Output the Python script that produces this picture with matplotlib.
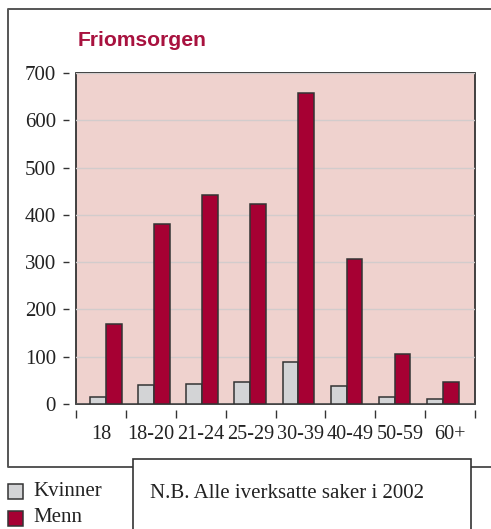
import matplotlib
matplotlib.use("Agg")
import matplotlib.pyplot as plt
from matplotlib.lines import Line2D
from matplotlib.patches import Rectangle
import numpy as np

# data
age_groups = ["18", "18-20", "21-24", "25-29", "30-39", "40-49", "50-59", "60+"]
kvinner = [14, 40, 42, 47, 88, 38, 14, 10]
menn = [170, 380, 443, 423, 657, 307, 106, 46]

TITLE = "Friomsorgen"
NOTE = "N.B. Alle iverksatte saker i 2002"

C_MENN = "#A60033"
C_KVINNER = "#D3D4D6"
C_BG = "#EFD2CE"
C_TITLE = "#A8123F"
C_EDGE = "#333333"
FS = 15

W, H = 491, 529
fig = plt.figure(figsize=(W / 100, H / 100), dpi=100)

# axes box in pixels: left 76, right 475, top 73, bottom 404
ax = fig.add_axes([76 / W, (H - 404) / H, 399 / W, 331 / H])

x = np.arange(len(age_groups))
bw = 0.33
ax.bar(x - bw / 2, kvinner, width=bw, color=C_KVINNER, edgecolor=C_EDGE,
       linewidth=1.1, zorder=3)
ax.bar(x + bw / 2, menn, width=bw, color=C_MENN, edgecolor=C_EDGE,
       linewidth=1.1, zorder=3)

xlim = (-0.624, 7.671)
ax.set_xlim(*xlim)
ax.set_ylim(0, 700)

ax.set_facecolor(C_BG)
ax.patch.set_edgecolor(C_EDGE)
ax.patch.set_linewidth(1.3)
for s in ax.spines.values():
    s.set_visible(False)
ax.spines["left"].set_position(("outward", 5))
ax.spines["bottom"].set_position(("outward", 4))

ax.yaxis.grid(True, color="#D2CCCC", linewidth=1.0, zorder=1)
ax.set_axisbelow(True)

serif = ["Liberation Serif", "DejaVu Serif"]
ax.set_yticks(np.arange(0, 701, 100))
ax.tick_params(axis="y", direction="out", length=4.5, width=1.0,
               color=C_EDGE, pad=5, labelsize=FS, labelcolor="#222222")

bounds = np.linspace(xlim[0], xlim[1], len(age_groups) + 1)
centers = (bounds[:-1] + bounds[1:]) / 2
ax.set_xticks(centers)
ax.set_xticklabels(age_groups)
ax.set_xticks(bounds, minor=True)
ax.tick_params(axis="x", which="major", length=0, pad=11, labelsize=14.6,
               labelcolor="#222222")
ax.tick_params(axis="x", which="minor", direction="out", length=6, width=1.0,
               color=C_EDGE)
for lab in ax.get_xticklabels() + ax.get_yticklabels():
    lab.set_fontfamily(serif)

# title
fig.text(78 / W, 1 - 41 / H, TITLE, color=C_TITLE, fontsize=15.2,
         fontweight="bold", family=["Liberation Sans", "DejaVu Sans"],
         ha="left", va="center")

# outer frame (runs off the right edge)
fy = lambda py: 1 - py / H
fx = lambda px: px / W
frame = Line2D([fx(500), fx(8), fx(8), fx(500)],
               [fy(9), fy(9), fy(466.5), fy(466.5)],
               transform=fig.transFigure, color="#555555", linewidth=1.4)
fig.add_artist(frame)

# note box on top of the frame bottom line
note = Rectangle((fx(133), fy(540)), fx(471) - fx(133), fy(459) - fy(540),
                 transform=fig.transFigure, facecolor="white",
                 edgecolor="#333333", linewidth=1.2, zorder=5)
fig.add_artist(note)
fig.text(fx(150), fy(493), NOTE, fontsize=FS, family=serif,
         color="#222222", ha="left", va="center", zorder=6)

# legend
for label, col, py in [("Kvinner", C_KVINNER, 491), ("Menn", C_MENN, 518)]:
    sq = Rectangle((fx(8), fy(py + 7.5)), fx(23) - fx(8), fy(py - 7.5) - fy(py + 7.5),
                   transform=fig.transFigure, facecolor=col,
                   edgecolor="#333333", linewidth=1.1)
    fig.add_artist(sq)
    fig.text(fx(33), fy(py), label, fontsize=FS, family=serif,
             color="#222222", ha="left", va="center")

fig.savefig("out.png", dpi=100)
